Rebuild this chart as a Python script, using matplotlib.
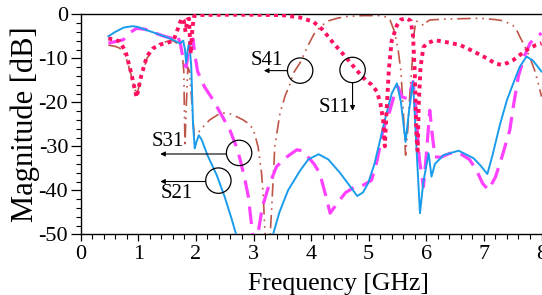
import matplotlib
matplotlib.use("Agg")
import matplotlib.pyplot as plt
from matplotlib.patches import Ellipse
from matplotlib.ticker import MultipleLocator

plt.rcParams['font.family'] = ['Liberation Serif', 'DejaVu Serif']
plt.rcParams['axes.unicode_minus'] = False

# ---------------- data ----------------
f_s11 = [0.48, 0.6, 0.68, 0.78, 0.87, 0.97, 1.05, 1.15, 1.26, 1.4, 1.5, 1.61, 1.69, 1.75,
         1.79, 1.82, 1.85, 1.88, 1.91, 1.94, 1.97, 2.05, 2.5, 3.0, 3.5, 3.8, 4.04, 4.2, 4.39,
         4.6, 4.79, 4.95, 5.05, 5.14, 5.2, 5.25, 5.28, 5.31, 5.35, 5.4, 5.49, 5.56, 5.66, 5.73,
         5.77, 5.80, 5.83, 5.85, 5.87, 5.9, 5.95, 6.01, 6.15, 6.3, 6.45, 6.59, 6.8, 7.05, 7.2,
         7.31, 7.42, 7.51, 7.6, 7.74, 7.9, 8.0]
s11 = [-5.5, -5.8, -6.2, -8.5, -13, -18.9, -14, -9.5, -7.7, -6.8, -6.5, -6.0, -3.2, -0.9,
       -1.5, -4, -1.2, -1.0, -9, -3, -0.4, -0.15, -0.1, -0.1, -0.2, -0.7, -1.7, -3.5, -6.6,
       -9.7, -12.7, -15, -16, -17.5, -20, -24, -30, -22, -12.5, -6, -2.5, -1.2, -0.9, -1.5,
       -5, -13.4, -28, -31, -20, -12, -7.5, -6.6, -5.9, -6.2, -6.6, -7.0, -8.3, -10, -11.2,
       -11.5, -11, -10.4, -9.5, -8.1, -7, -6.6]

f_s21 = [0.48, 0.6, 0.75, 0.9, 1.0, 1.1, 1.3, 1.45, 1.6, 1.72, 1.78, 1.81, 1.83, 1.86, 1.885,
         1.92, 1.95, 1.98, 2.01, 2.05, 2.1, 2.2, 2.36, 2.5, 2.62, 2.72, 2.8, 3.25, 3.34, 3.45,
         3.6, 3.81, 3.95, 4.13, 4.3, 4.5, 4.7, 4.80, 4.9, 4.99, 5.1, 5.2, 5.3, 5.4, 5.49, 5.56,
         5.64, 5.7, 5.77, 5.82, 5.89, 5.95, 6.04, 6.09, 6.15, 6.3, 6.56, 6.82, 6.95, 7.06, 7.15,
         7.28, 7.4, 7.51, 7.62, 7.74, 7.85, 8.0]
s21 = [-5.0, -4.0, -3.0, -2.7, -2.9, -3.4, -4.3, -5.0, -5.8, -6.6, -6.0, -8, -11, -8, -6.2,
       -12, -25, -30.5, -29, -27.5, -28.5, -32, -36.5, -41.5, -46.5, -51, -60, -60, -50, -45,
       -40, -35.5, -33, -31.8, -33, -36, -39.5, -41.3, -40.5, -38.4, -34, -28.5, -23, -18,
       -15.7, -20, -29, -22, -15.3, -28, -45.2, -38, -31.6, -36.9, -34, -32, -31, -32.7, -34.5,
       -36.3, -32, -25, -19.5, -15.7, -12, -9.6, -10.5, -13]

f_s31 = [0.48, 0.6, 0.74, 0.85, 0.97, 1.12, 1.3, 1.45, 1.6, 1.67, 1.73, 1.78, 1.83, 1.88,
         1.95, 1.98, 2.03, 2.15, 2.3, 2.45, 2.59, 2.7, 2.77, 2.85, 2.91, 2.97, 3.0, 3.05, 3.08,
         3.15, 3.26, 3.40, 3.58, 3.75, 3.85, 3.92, 4.05, 4.15, 4.25, 4.33, 4.45, 4.6, 4.75,
         4.91, 5.05, 5.15, 5.25, 5.37, 5.45, 5.51, 5.58, 5.66, 5.72, 5.77, 5.82, 5.88, 5.95,
         6.0, 6.06, 6.1, 6.15, 6.25, 6.41, 6.58, 6.75, 6.87, 6.98, 7.08, 7.2, 7.3, 7.45, 7.51,
         7.6, 7.71, 7.8, 7.9, 8.0]
s31 = [-6.6, -6.2, -5.8, -4.2, -3.2, -3.4, -4.3, -5.0, -5.5, -4.7, -6.5, -10.4, -12, -8,
       -5.6, -9, -13, -16.5, -19.5, -23, -26.3, -30, -33.1, -37.5, -41.4, -48.3, -52, -52,
       -49.8, -44, -39.2, -34.6, -32.4, -30.8, -31, -32, -34, -36.1, -41, -45.2, -43, -40.5,
       -39.3, -38.8, -37.7, -33, -26.3, -21.8, -18, -16.5, -18.8, -19.1, -17.5, -15.3, -22,
       -33, -39.2, -32, -21.8, -27, -32.4, -32.5, -31.6, -31.6, -33, -35.4, -38.5, -39.9, -37,
       -33, -26.3, -21, -14, -9.3, -6.6, -5.2, -4.3]

f_s41 = [0.48, 0.6, 0.68, 0.78, 0.87, 0.97, 1.05, 1.15, 1.26, 1.38, 1.49, 1.6, 1.7, 1.76,
         1.79, 1.81, 1.83, 1.86, 1.89, 1.93, 1.97, 2.02, 2.13, 2.24, 2.42, 2.55, 2.65, 2.82,
         2.93, 3.0, 3.08, 3.14, 3.17, 3.20, 3.22, 3.27, 3.29, 3.32, 3.37, 3.46, 3.55, 3.63,
         3.69, 3.81, 3.95, 4.05, 4.16, 4.3, 4.45, 4.62, 4.9, 5.2, 5.3, 5.37, 5.45, 5.51, 5.56,
         5.6, 5.64, 5.68, 5.72, 5.75, 5.78, 5.82, 5.9, 5.96, 6.01, 6.06, 6.3, 6.6, 6.93, 7.2,
         7.35, 7.45, 7.51, 7.57, 7.62, 7.68, 7.74, 7.81, 7.88, 7.94, 8.0]
s41 = [-7.0, -7.3, -7.7, -9.5, -13.5, -18.5, -14.5, -10, -8, -6.5, -6.2, -6.0, -6.8, -8.5,
       -13, -30, -22, -12, -13, -20, -27.5, -27.2, -25.5, -24, -22.5, -22.4, -22.9, -24, -25,
       -26.3, -30.1, -36.1, -41.4, -49.8, -56, -56, -50, -43, -30, -22.5, -18.5, -16, -13.4,
       -11, -7, -4.5, -2.8, -1.5, -0.9, -0.5, -0.3, -0.3, -0.6, -1.3, -4, -8, -13, -22, -32,
       -26, -17, -12, -5, -1.5, -2.0, -2.6, -1.7, -1.3, -1.1, -1.0, -0.9, -1.2, -1.5, -2.2,
       -2.6, -3.6, -5, -6.5, -8.1, -10.2, -12.7, -15.5, -18.7]

x_ticks = [0, 1, 2, 3, 4, 5, 6, 7, 8]
y_ticks = [0, -10, -20, -30, -40, -50]

# annotation markers
labels = ['S41', 'S11', 'S31', 'S21']
circ_f = [3.81, 4.72, 2.75, 2.39]
circ_db = [-12.8, -12.65, -31.5, -37.8]
text_f = [3.23, 4.41, 1.52, 1.67]
text_db = [-10.4, -21.1, -28.9, -40.8]
arrow_from = [(3.58, -12.8), (4.72, -15.6), (2.53, -31.75), (2.17, -38.0)]
arrow_to = [(3.18, -12.8), (4.72, -21.9), (1.38, -31.75), (1.38, -38.0)]

# ---------------- figure ----------------
fig = plt.figure(figsize=(5.42, 2.95), dpi=100)
ax = fig.add_axes([80.7 / 542, 1 - 234.3 / 295, (541.5 - 80.7) / 542, 220 / 295])

ax.plot(f_s41, s41, color='#bf5549', lw=1.2, dashes=(8, 3, 1, 3, 1, 3), zorder=2)
ax.plot(f_s31, s31, color='#ff40ff', lw=2.3, dashes=(5.5, 2.8), zorder=3)
ax.plot(f_s21, s21, color='#1a9cec', lw=1.4, zorder=4)
ax.plot(f_s11, s11, color='#ff1060', lw=2.8, dashes=(1.0, 1.1), zorder=5)

for lab, cf, cd, tf, td, a0, a1 in zip(labels, circ_f, circ_db, text_f, text_db,
                                       arrow_from, arrow_to):
    ax.add_patch(Ellipse((cf, cd), width=2 * 12.7 / 57.6, height=2 * 12.7 / 4.4,
                         fill=False, edgecolor='black', lw=0.9, zorder=6))
    ax.annotate('', xy=a1, xytext=a0,
                arrowprops=dict(arrowstyle='-|>', color='black', lw=0.8,
                                mutation_scale=7, shrinkA=0, shrinkB=0), zorder=6)
    ax.text(tf, td, lab, ha='center', va='center', fontsize=15, zorder=6)

ax.set_xlim(0, 8)
ax.set_ylim(-50, 0)
ax.set_xticks(x_ticks)
ax.set_yticks(y_ticks)
ax.xaxis.set_minor_locator(MultipleLocator(0.2))
ax.yaxis.set_minor_locator(MultipleLocator(2))
ax.tick_params(axis='both', which='major', direction='out', labelsize=16, width=0.9)
ax.tick_params(axis='y', which='major', length=7, pad=2)
ax.tick_params(axis='x', which='major', length=5, pad=3)
ax.tick_params(axis='both', which='minor', direction='out', length=3.5, width=0.8)
ax.spines['right'].set_visible(False)
for s in ['left', 'bottom', 'top']:
    ax.spines[s].set_linewidth(1.0)

ax.set_xlabel('Frequency [GHz]', fontsize=18.5)
ax.xaxis.label.set_va('baseline')
ax.xaxis.set_label_coords((338 - 80.7) / 460.8, (234.3 - 290) / 220)
ax.set_ylabel('Magnitude [dB]', fontsize=22)
ax.yaxis.label.set_va('center')
ax.yaxis.set_label_coords((25 - 80.7) / 460.8, 0.5)

fig.savefig('out.png', dpi=100)
